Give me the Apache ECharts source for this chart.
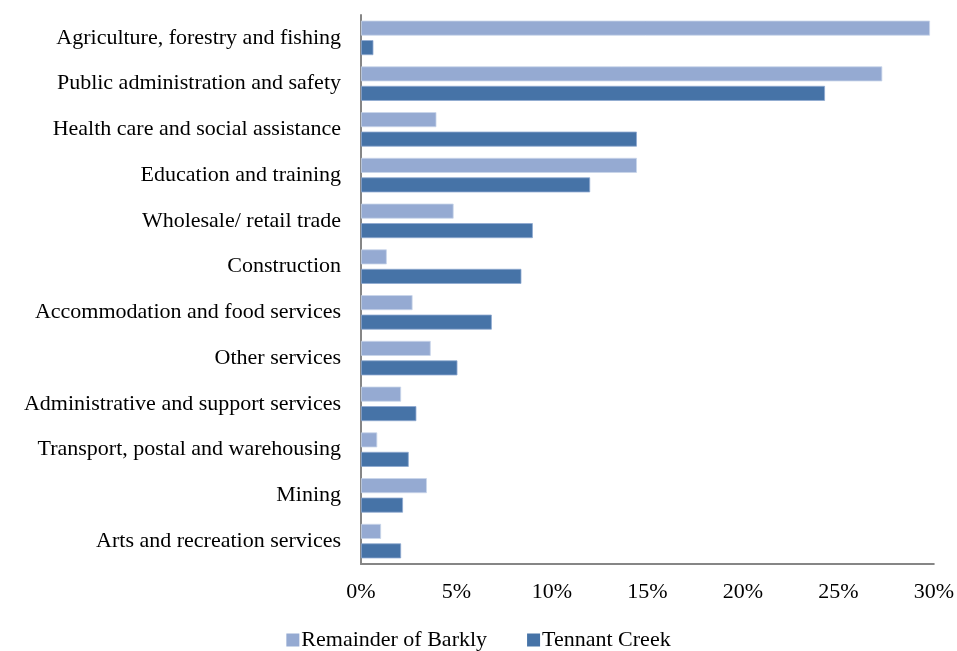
<!DOCTYPE html>
<html>
<head>
<meta charset="utf-8">
<script src="https://cdn.jsdelivr.net/npm/echarts@6/dist/echarts.min.js"></script>
<style>
html,body{margin:0;padding:0;background:#fff;}
#chart{width:957px;height:651px;}
</style>
</head>
<body>
<div id="chart"></div>
<script>
const categories = [
  "Agriculture, forestry and fishing",
  "Public administration and safety",
  "Health care and social assistance",
  "Education and training",
  "Wholesale/ retail trade",
  "Construction",
  "Accommodation and food services",
  "Other services",
  "Administrative and support services",
  "Transport, postal and warehousing",
  "Mining",
  "Arts and recreation services"
];
const remainderOfBarkly = [29.8, 27.3, 3.95, 14.45, 4.85, 1.35, 2.7, 3.65, 2.1, 0.85, 3.45, 1.05];
const tennantCreek = [0.65, 24.3, 14.45, 12.0, 9.0, 8.4, 6.85, 5.05, 2.9, 2.5, 2.2, 2.1];
const xTicks = [0, 5, 10, 15, 20, 25, 30];

const font = "'Liberation Serif', serif";
const fs = 22;
const chart = echarts.init(document.getElementById('chart'));
chart.setOption({
  animation: false,
  textStyle: {fontFamily: font},
  grid: {left: 361, right: 23, top: 15, bottom: 87, containLabel: false},
  legend: {
    top: 629, left: 'center', padding: 0,
    itemWidth: 13, itemHeight: 13, itemGap: 40,
    icon: 'rect',
    itemStyle: {borderWidth: 0},
    textStyle: {fontFamily: font, fontSize: fs, color: '#000', padding: [0,0,0,-3]},
    data: ['Remainder of Barkly', 'Tennant Creek']
  },
  xAxis: {
    type: 'value', min: xTicks[0], max: xTicks[xTicks.length-1], interval: 5,
    axisLine: {show: true, lineStyle: {color: '#868686', width: 2}},
    axisTick: {show: false},
    splitLine: {show: false},
    axisLabel: {formatter: v => v + '%', fontFamily: font, fontSize: fs, color: '#000', margin: 17}
  },
  yAxis: {
    type: 'category', data: categories, inverse: true,
    axisLine: {show: true, lineStyle: {color: '#868686', width: 2}},
    axisTick: {show: false},
    axisLabel: {fontFamily: font, fontSize: fs, color: '#000', margin: 20}
  },
  series: [
    {name: 'Remainder of Barkly', type: 'bar', data: remainderOfBarkly, barWidth: 15, barGap: '30%',
     itemStyle: {color: '#95AAD2', borderColor: '#C9D5EA', borderWidth: 0.8}},
    {name: 'Tennant Creek', type: 'bar', data: tennantCreek, barWidth: 15, barGap: '30%',
     itemStyle: {color: '#4673A7', borderColor: '#8FAAD0', borderWidth: 0.8}}
  ]
});
</script>
</body>
</html>
